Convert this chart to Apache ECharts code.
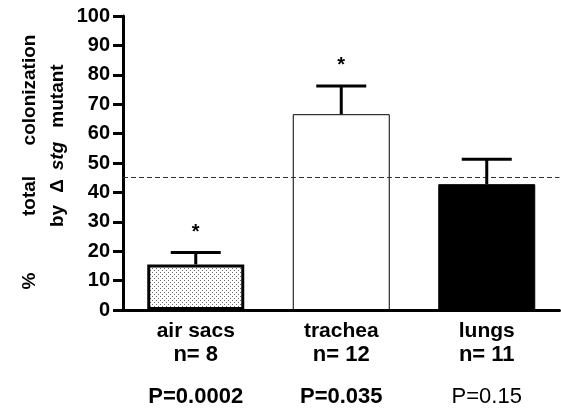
<!DOCTYPE html>
<html>
<head>
<meta charset="utf-8">
<script src="https://cdn.jsdelivr.net/npm/echarts@6/dist/echarts.min.js"></script>
<style>
html,body{margin:0;padding:0;background:#fff;}
#main{width:561px;height:411px;}
</style>
</head>
<body>
<div id="main"></div>
<script>
// data
var categories = ["air sacs", "trachea", "lungs"];
var nLabels = ["n= 8", "n= 12", "n= 11"];
var pLabels = ["P=0.0002", "P=0.035", "P=0.15"];
var pBold = [true, true, false];
var means = [15.5, 66.6, 42.8];
var errors = [4.1, 9.6, 8.5];
var stars = ["*", "*", ""];
var refLine = 45;
var yTicks = [0, 100, 10]; // min, max, interval

var FONT = "Liberation Sans, Arial, sans-serif";

// stipple pattern for the first bar
function dots(){
    var c = document.createElement("canvas");
    c.width = 4; c.height = 4;
    var ctx = c.getContext("2d");
    ctx.fillStyle = "#fff";
    ctx.fillRect(0, 0, 4, 4);
    ctx.fillStyle = "#6a6a6a";
    ctx.fillRect(0, 0, 1, 1);
    ctx.fillRect(2, 2, 1, 1);
    return c;
}

var barStyles = [
    {color: {image: dots(), repeat: "repeat"}, borderColor: "#000", borderWidth: 3},
    {color: "#fff", borderColor: "#000", borderWidth: 1},
    {color: "#000", borderColor: "#000", borderWidth: 1}
];

var barData = means.map(function(v, i){
    return {value: v, itemStyle: barStyles[i]};
});
var errData = means.map(function(v, i){
    return [i, v, v + errors[i], stars[i]];
});

// rotated y axis title, placed word by word like the original
function vtext(str, x, y, italic){
    return {type: "text", x: x, y: y, rotation: Math.PI / 2,
        style: {text: str, fontFamily: FONT, fontWeight: "bold", fontStyle: italic ? "italic" : "normal",
                fontSize: 19, fill: "#000", align: "center", verticalAlign: "middle"}};
}

var myChart = echarts.init(document.getElementById("main"));
var option = {
    animation: false,
    grid: {left: 123, right: 1.5, top: 16, bottom: 101},
    xAxis: {
        type: "category",
        data: categories,
        axisLine: {lineStyle: {color: "#000", width: 3}},
        axisTick: {alignWithLabel: true, length: 8, lineStyle: {color: "#000", width: 3}},
        axisLabel: {
            margin: 9,
            formatter: function(val, idx){
                return "{a|" + val + "}\n{n|" + nLabels[idx] + "}\n{" + (pBold[idx] ? "p" : "q") + "|" + pLabels[idx] + "}";
            },
            rich: {
                a: {fontFamily: FONT, fontWeight: "bold", fontSize: 21, lineHeight: 24, color: "#000"},
                n: {fontFamily: FONT, fontWeight: "bold", fontSize: 22, lineHeight: 24, color: "#000"},
                p: {fontFamily: FONT, fontWeight: "bold", fontSize: 22, lineHeight: 60, color: "#000"},
                q: {fontFamily: FONT, fontWeight: "normal", fontSize: 22, lineHeight: 60, color: "#000"}
            }
        }
    },
    yAxis: {
        type: "value",
        min: yTicks[0], max: yTicks[1], interval: yTicks[2],
        splitLine: {show: false},
        axisLine: {show: true, lineStyle: {color: "#000", width: 3}},
        axisTick: {show: true, length: 10, lineStyle: {color: "#000", width: 3}},
        axisLabel: {margin: 13, color: "#000", fontFamily: FONT, fontWeight: "bold", fontSize: 20}
    },
    graphic: [
        vtext("%", 30, 281),
        vtext("total", 30, 196),
        vtext("colonization", 30, 90),
        vtext("by", 58, 216),
        vtext("\u0394", 58, 186),
        vtext("stg", 58, 156, true),
        vtext("mutant", 58, 96)
    ],
    series: [
        {
            type: "bar",
            data: barData,
            barWidth: 97,
            markLine: {
                silent: true,
                symbol: "none",
                label: {show: false},
                lineStyle: {color: "#333", width: 1, type: [5, 3]},
                data: [{yAxis: refLine}]
            }
        },
        {
            type: "custom",
            data: errData,
            z: 5,
            renderItem: function(params, api){
                var x = api.coord([api.value(0), api.value(1)])[0];
                var y0 = api.coord([api.value(0), api.value(1)])[1];
                var y1 = api.coord([api.value(0), api.value(2)])[1];
                var st = {stroke: "#000", lineWidth: 3};
                return {
                    type: "group",
                    children: [
                        {type: "line", shape: {x1: x, y1: y0, x2: x, y2: y1}, style: st},
                        {type: "line", shape: {x1: x - 25, y1: y1, x2: x + 25, y2: y1}, style: st},
                        {type: "text", x: x, y: y1 - 10,
                         style: {text: stars[params.dataIndex], fontFamily: FONT, fontWeight: "bold", fontSize: 20, fill: "#000", align: "center", verticalAlign: "bottom"}}
                    ]
                };
            }
        }
    ]
};
myChart.setOption(option);
</script>
</body>
</html>
